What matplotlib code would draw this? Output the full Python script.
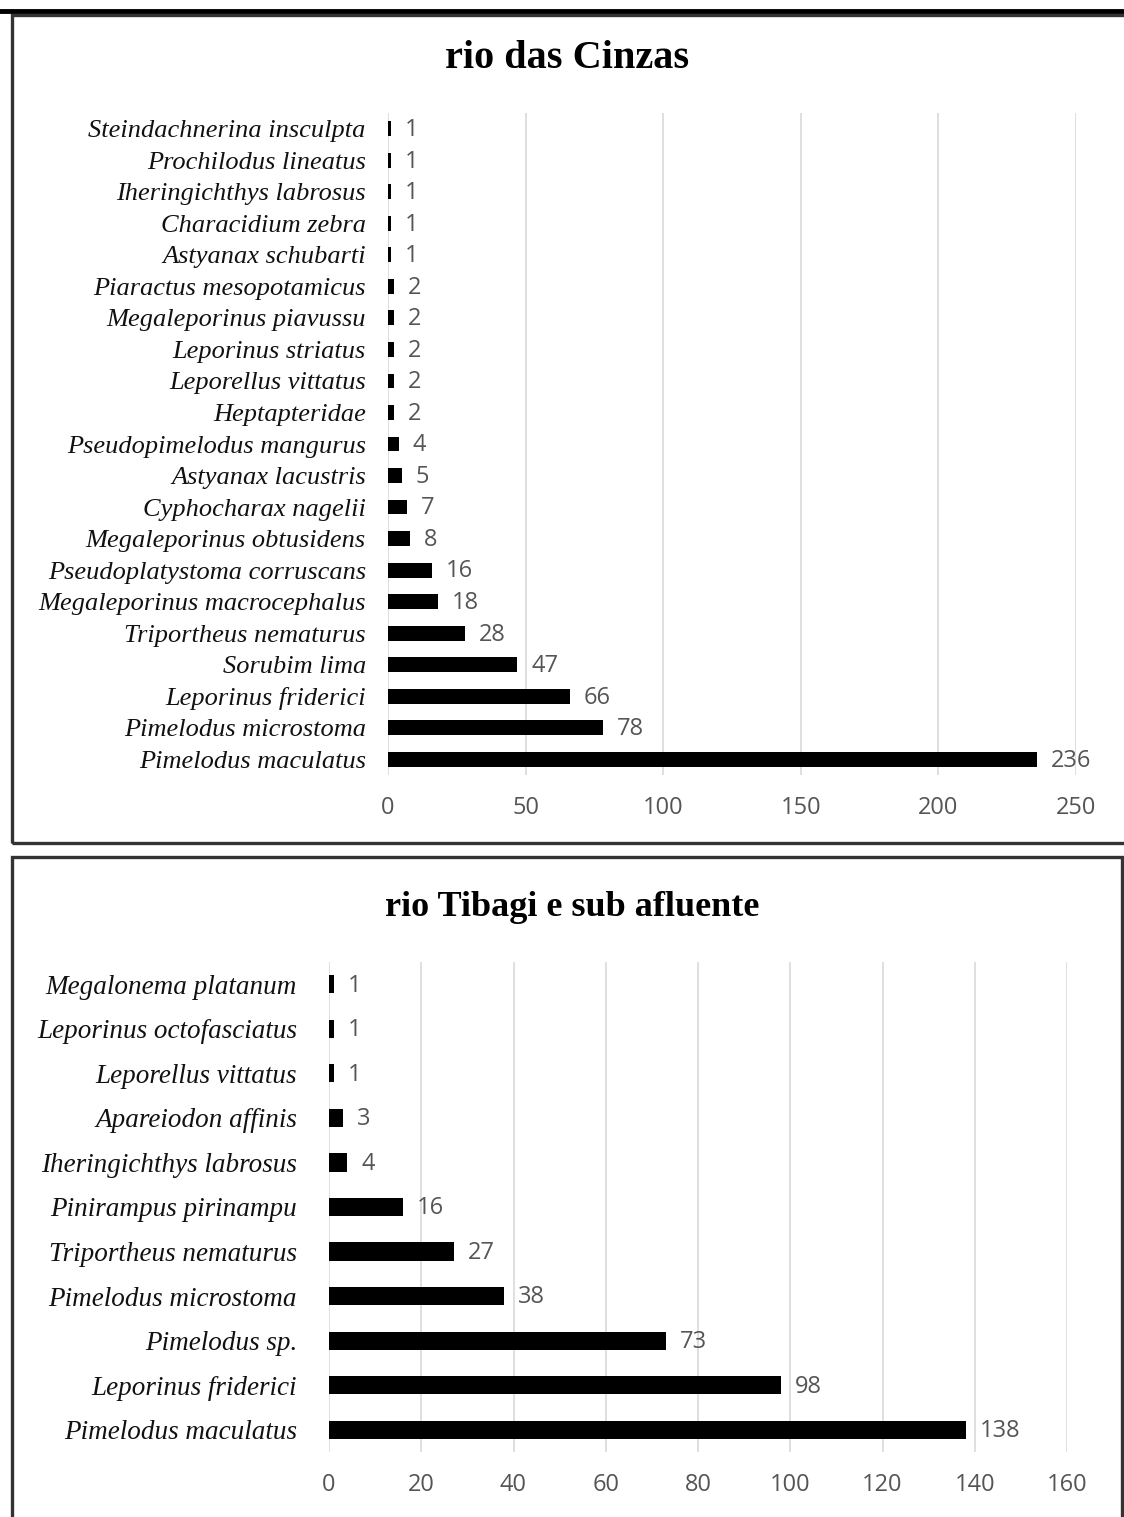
import matplotlib.pyplot as plt
from matplotlib.patches import Rectangle
from matplotlib.lines import Line2D

W, H = 1124, 1517

# ── data ─────────────────────────────────────────────────────────────────────
cinzas_species = [
    "Pimelodus maculatus", "Pimelodus microstoma", "Leporinus friderici",
    "Sorubim lima", "Triportheus nematurus", "Megaleporinus macrocephalus",
    "Pseudoplatystoma corruscans", "Megaleporinus obtusidens",
    "Cyphocharax nagelii", "Astyanax lacustris", "Pseudopimelodus mangurus",
    "Heptapteridae", "Leporellus vittatus", "Leporinus striatus",
    "Megaleporinus piavussu", "Piaractus mesopotamicus", "Astyanax schubarti",
    "Characidium zebra", "Iheringichthys labrosus", "Prochilodus lineatus",
    "Steindachnerina insculpta",
]
cinzas_counts = [236, 78, 66, 47, 28, 18, 16, 8, 7, 5, 4,
                 2, 2, 2, 2, 2, 1, 1, 1, 1, 1]
cinzas_ticks = [0, 50, 100, 150, 200, 250]

tibagi_species = [
    "Pimelodus maculatus", "Leporinus friderici", "Pimelodus sp.",
    "Pimelodus microstoma", "Triportheus nematurus", "Pinirampus pirinampu",
    "Iheringichthys labrosus", "Apareiodon affinis", "Leporellus vittatus",
    "Leporinus octofasciatus", "Megalonema platanum",
]
tibagi_counts = [138, 98, 73, 38, 27, 16, 4, 3, 1, 1, 1]
tibagi_ticks = [0, 20, 40, 60, 80, 100, 120, 140, 160]

GRID = "#d9d9d9"
TICK = "#555555"
FRAME = "#333333"


def fx(px):
    return px / W


def fy(py):
    return 1 - py / H


fig = plt.figure(figsize=(W / 100, H / 100), dpi=100, facecolor="white")

# page rule at the very top + panel frames
fig.add_artist(Line2D([0, 1], [fy(11), fy(11)], color="black", lw=3.5,
                      transform=fig.transFigure))
fig.add_artist(Rectangle((fx(12), fy(843)), fx(1130) - fx(12), fy(15) - fy(843),
                         fill=False, ec=FRAME, lw=2.4, transform=fig.transFigure))
fig.add_artist(Rectangle((fx(12), fy(1530)), fx(1122) - fx(12), fy(857) - fy(1530),
                         fill=False, ec=FRAME, lw=2.4, transform=fig.transFigure))


def panel(rect, species, counts, ticks, bar_h, ylab_pad, lab_size,
          title, title_xy, title_size):
    ax = fig.add_axes(rect)
    y = list(range(len(species)))
    ax.barh(y, counts, height=bar_h, color="black", zorder=3)
    ax.set_ylim(-0.5, len(species) - 0.5)
    ax.set_xlim(ticks[0], ticks[-1])
    ax.set_yticks(y)
    ax.set_yticklabels(species, family="Liberation Serif", style="italic",
                       fontsize=lab_size, color="#111111")
    ax.set_xticks(ticks)
    ax.set_xticklabels([str(t) for t in ticks], family="Open Sans",
                       fontsize=17, color=TICK)
    ax.tick_params(axis="x", length=0, pad=15)
    ax.tick_params(axis="y", length=0, pad=ylab_pad)
    ax.grid(axis="x", color=GRID, lw=1.2, zorder=0)
    ax.set_axisbelow(True)
    for s in ax.spines.values():
        s.set_visible(False)
    for yi, c in zip(y, counts):
        ax.annotate(str(c), (c, yi), xytext=(10, -1), textcoords="offset points",
                    ha="left", va="center", family="Open Sans", fontsize=17,
                    color=TICK, annotation_clip=False)
    fig.text(fx(title_xy[0]), fy(title_xy[1]), title, ha="center", va="baseline",
             family="Liberation Serif", fontweight="bold", fontsize=title_size,
             color="black")
    return ax


panel([fx(388), fy(775), fx(1076) - fx(388), fy(113) - fy(775)],
      cinzas_species, cinzas_counts, cinzas_ticks, 0.47, 16, 19,
      "rio das Cinzas", (567, 68), 29)

panel([fx(329), fy(1452), fx(1067) - fx(329), fy(962) - fy(1452)],
      tibagi_species, tibagi_counts, tibagi_ticks, 0.41, 23, 19.5,
      "rio Tibagi e sub afluente", (572, 916), 26)

fig.savefig("out.png", dpi=100, facecolor="white")
